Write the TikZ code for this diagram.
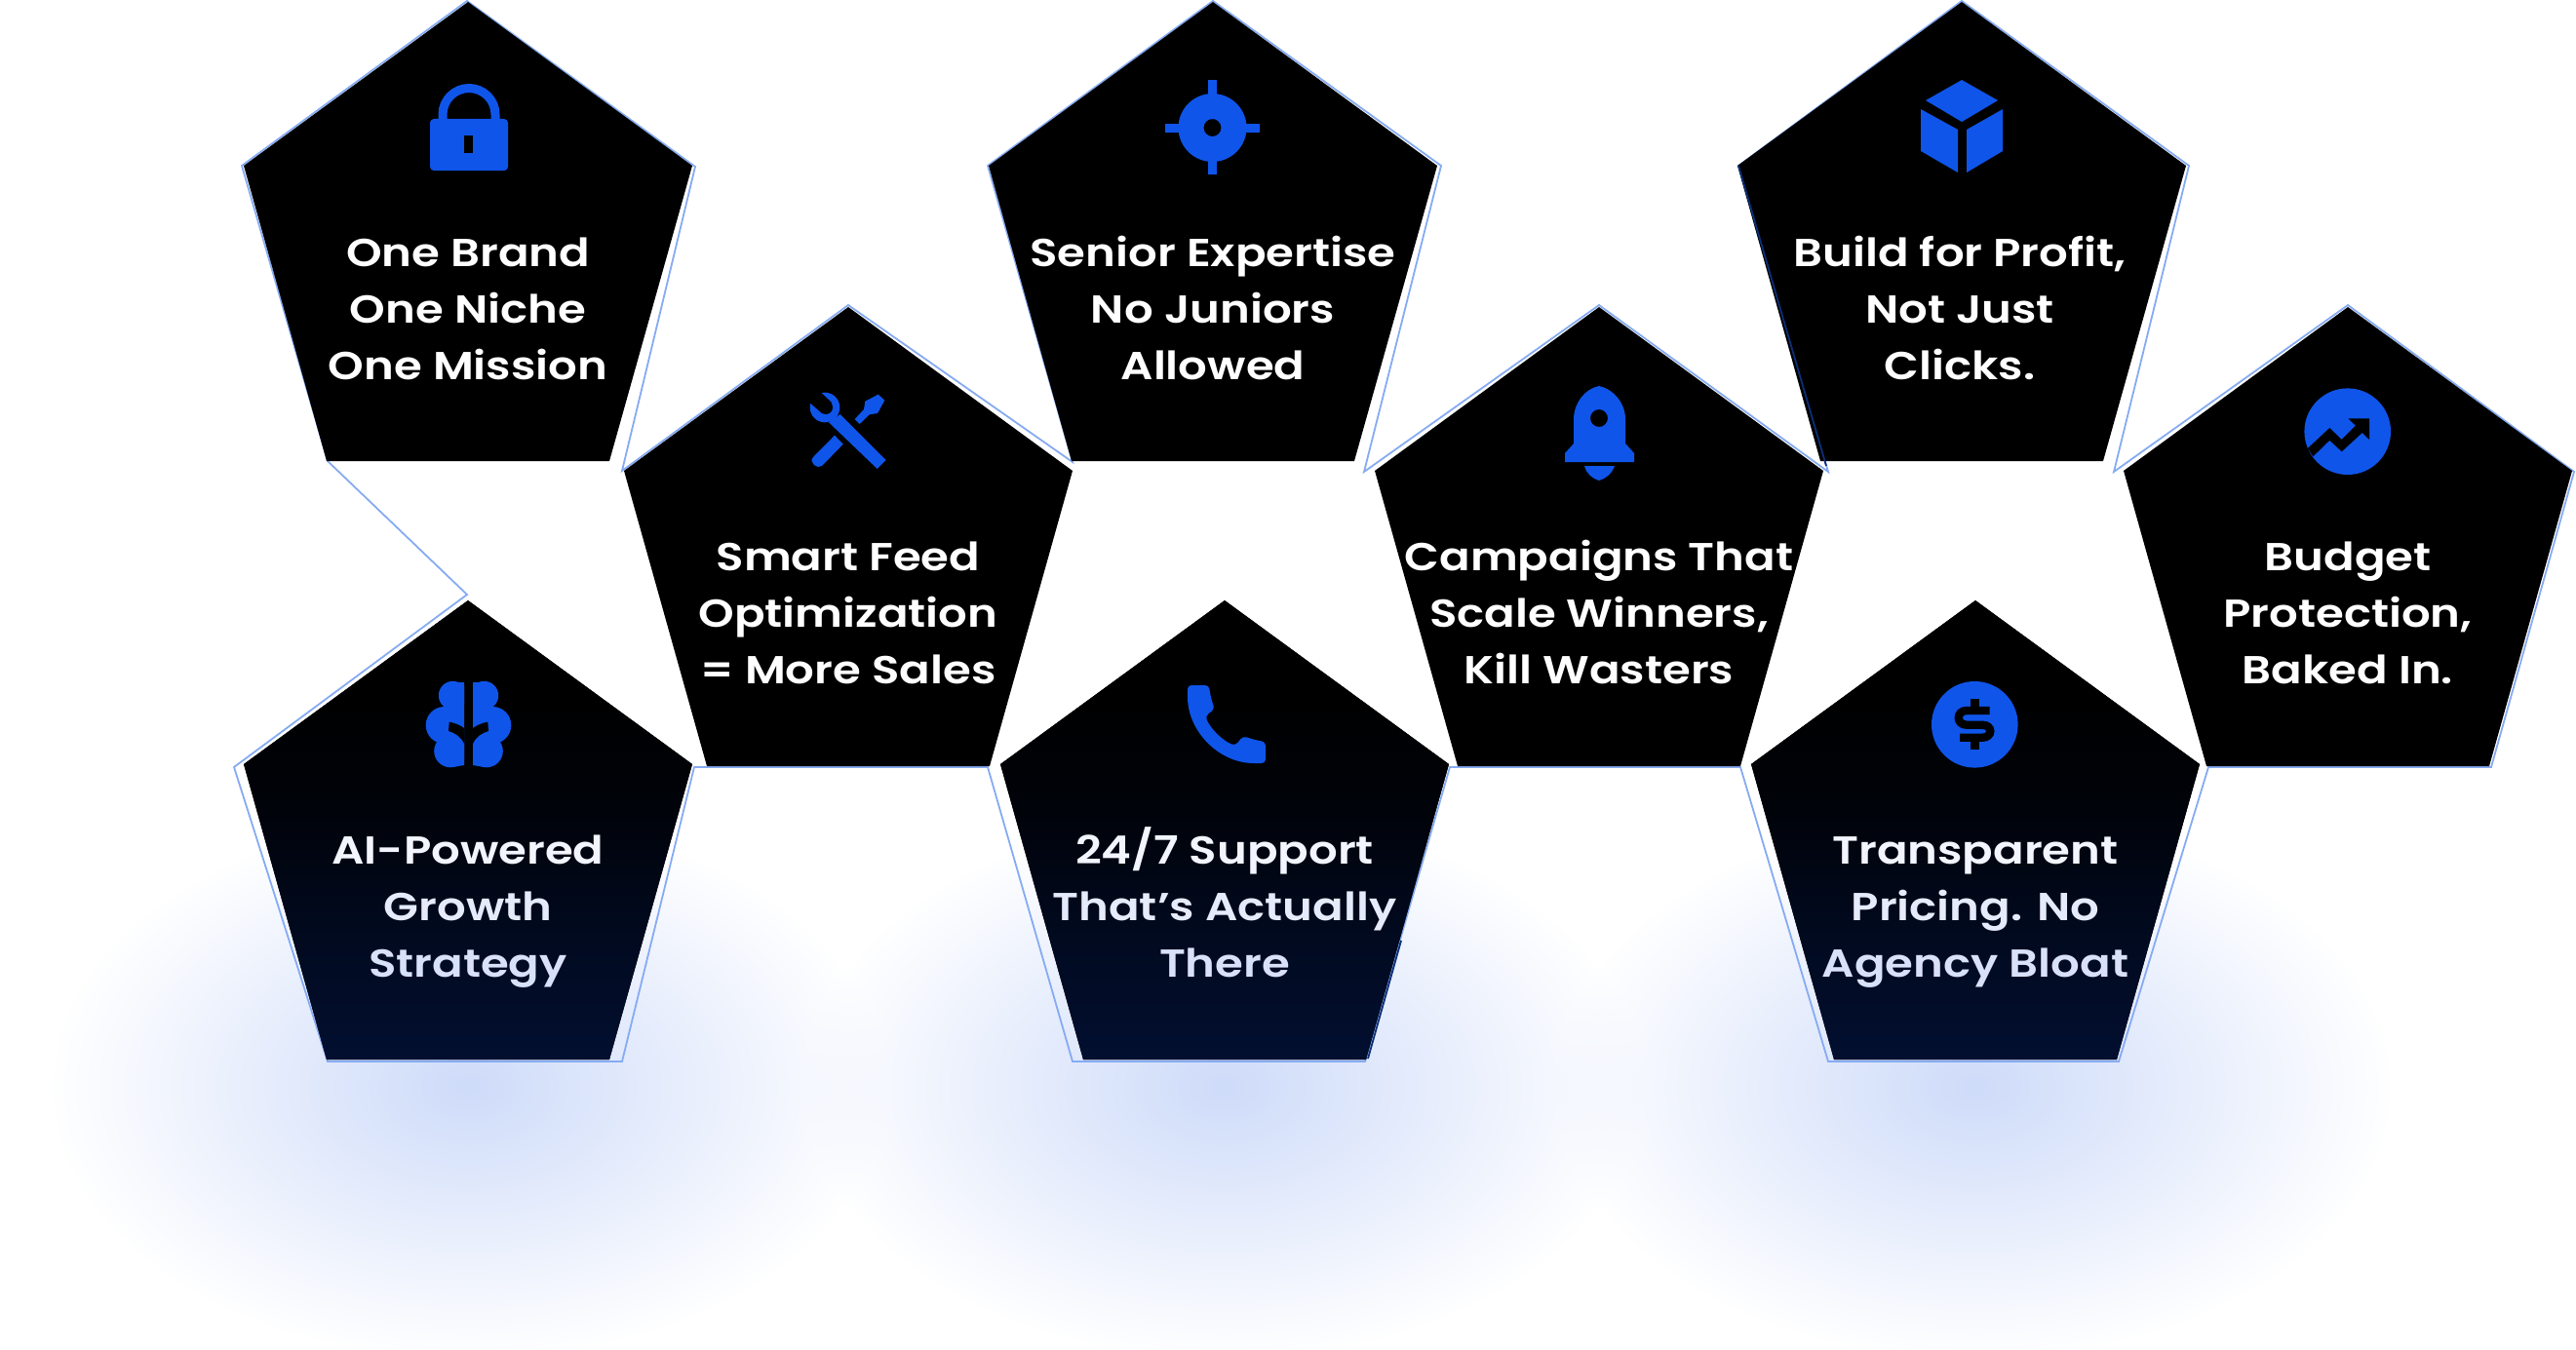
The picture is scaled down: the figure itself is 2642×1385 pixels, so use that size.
\documentclass[tikz,border=0pt]{standalone}
\usepackage{fontspec}
\setmainfont{Poppins}[BoldFont={Poppins SemiBold},FakeStretch=1.165]
\usetikzlibrary{fadings}

\definecolor{iconblue}{HTML}{0F55EA}
\definecolor{edgeblue}{HTML}{86ABF2}
\definecolor{edgedark}{HTML}{0C2F78}
\definecolor{glowblue}{HTML}{CEDBF9}
\definecolor{nightblue}{HTML}{020F30}
\definecolor{textlo}{HTML}{D8E1F8}
\definecolor{textmid}{HTML}{E6EBFB}
\definecolor{texthi}{HTML}{F2F5FE}

\pgfdeclareverticalshading{padshade}{100bp}{
  color(0bp)=(nightblue); color(25bp)=(nightblue); color(40bp)=(black!40!nightblue); color(52bp)=(black!80!nightblue); color(65bp)=(black); color(100bp)=(black)}
\tikzfading[name=glowfade, inner color=transparent!0, middle color=transparent!50, outer color=transparent!100]

\tikzset{
  pad/.style={fill=black},
  lowpad/.style={shading=padshade},
  caption/.style={text=white, font=\bfseries\fontsize{20}{29}\selectfont, align=center, anchor=base},
  edge/.style={draw=edgeblue, line width=0.9pt, line join=miter},
  icon/.style={fill=iconblue, draw=none}
}

\newcommand{\padpath}[2]{(#1,#2) -- (#1+230,#2+168) -- (#1+145,#2+471) -- (#1-145,#2+471) -- (#1-230,#2+168) -- cycle}

\begin{document}
\begin{tikzpicture}[x=0.5pt, y=-0.5pt]
  \useasboundingbox (0,0) rectangle (2642,1385);

  % glow under the bottom row
  \foreach \gx in {480,1255,2025}
    \fill[glowblue, path fading=glowfade] (\gx,1115) ellipse (430 and 280);

  % outline behind the pads
  \draw[edge] (479,1) -- (713,171) -- (638,483) -- (870,313) -- (1100,474) -- (1013,170)
    -- (1244,1) -- (1478,170) -- (1399,484) -- (1640,313) -- (1875,484) -- (1783,170)
    -- (2012,1) -- (2245,170) -- (2168,484) -- (2408,313) -- (2640,484) -- (2555,787)
    -- (2265,787) -- (2173,1089) -- (1875,1089) -- (1785,787) -- (1487,787) -- (1400,1089)
    -- (1100,1089) -- (1013,787) -- (712,787) -- (638,1089) -- (336,1089) -- (240,787)
    -- (479,610) -- (336,473) -- (248,170) -- cycle;

  % pads
  \foreach \px/\py in {480/2,1244/2,2012/2,870/315,1640/315,2408/315}
    \fill[pad] \padpath{\px}{\py};
  \foreach \px/\py in {480/616,1256/616,2026/616}
    \fill[lowpad] \padpath{\px}{\py};
  \draw[edgedark, line width=0.9pt] (1873,478) -- (1783,170);
  \draw[edgedark, line width=0.9pt] (1403,1086) -- (1437,965);

  % captions
  \node[caption] (brand) at (480,389.5) {One Brand\\One Niche\\One Mission};
  \node[caption] (senior) at (1244,389.5) {Senior Expertise\\No Juniors\\Allowed};
  \node[caption] (profit) at (2010,389.5) {Build for Profit,\\Not Just\\Clicks.};
  \node[caption] (feed) at (870,701) {Smart Feed\\Optimization\\= More Sales};
  \node[caption] (scale) at (1640,701) {Campaigns That\\Scale Winners,\\Kill Wasters};
  \node[caption] (budget) at (2408,701) {Budget\\Protection,\\Baked In.};
  \node[caption] (growth) at (480,1002) {\textcolor{texthi}{AI-Powered}\\\textcolor{textmid}{Growth}\\\textcolor{textlo}{Strategy}};
  \node[caption] (support) at (1256,1002) {\textcolor{texthi}{24/7 Support}\\\textcolor{textmid}{That’s Actually}\\\textcolor{textlo}{There}};
  \node[caption] (pricing) at (2026,1002) {\textcolor{texthi}{Transparent}\\\textcolor{textmid}{Pricing. No}\\\textcolor{textlo}{Agency Bloat}};

  % lock
  \draw[iconblue, line width=4.5pt] (454,125) -- (454,117.5) arc (180:360:27) -- (508,125);
  \fill[icon, rounded corners=2pt] (441,122) rectangle (521,175);
  \fill (476,139) rectangle (485,157);

  % target
  \fill[icon, even odd rule] (1243.5,131) circle (35) (1243.5,131) circle (9);
  \fill[icon] (1239,82) rectangle (1248,98);
  \fill[icon] (1239,164) rectangle (1248,179);
  \fill[icon] (1195,127) rectangle (1211,136);
  \fill[icon] (1275,127) rectangle (1292,136);

  % cube
  \fill[icon] (2012,82) -- (2049,103) -- (2012,125) -- (1975,103) -- cycle;
  \fill[icon] (1970,112) -- (2008,133) -- (2008,177) -- (1970,155) -- cycle;
  \fill[icon] (2017,133) -- (2054,112) -- (2054,155) -- (2017,177) -- cycle;

  % tools
  \fill[icon] (900.7,404.7) -- (907.3,410.7) -- (900,424) -- (891.7,425.3) -- (881.7,435) -- (876.7,430) -- (886,420) -- (887.3,411.7) -- cycle;
  \fill[icon] (856,446.7) -- (864.7,455.7) -- (843,478) .. controls (838,482) and (829,474) .. (834,469) -- cycle;
  \fill[icon] (846,418) circle (15.3);
  \fill[icon] (850,433.3) -- (861.7,425) -- (908.7,472) -- (899.7,481) -- cycle;
  \fill (847,418) circle (7);
  \fill (838,399) -- (827,410) -- (843,424) -- (853,413) -- cycle;

  % rocket
  \fill[icon, even odd rule] (1640,396) .. controls (1655,399) and (1667,414) .. (1667,430) -- (1667,455) -- (1676,465) -- (1676,474)
    -- (1605,474) -- (1605,465) -- (1614,455) -- (1614,430) .. controls (1614,414) and (1625,399) .. (1640,396) -- cycle
    (1640,429) circle (9);
  \fill[icon] (1625,478) -- (1656,478) .. controls (1653,486) and (1647,491) .. (1640,493) .. controls (1633,491) and (1627,486) .. (1625,478) -- cycle;

  % chart
  \fill[icon] (2407.7,442.7) circle (44.3);
  \fill (2366.7,460) -- (2389.3,439) -- (2401.7,451) -- (2416,436.7) -- (2408.3,429.3) -- (2430,429.3) -- (2430,451)
    -- (2422.7,444) -- (2401.7,463.3) -- (2389.3,451.7) -- (2372.3,468.3) -- cycle;

  % brain
  \foreach \flip in {0,1} {
    \begin{scope}[shift={(961*\flip,0)}, xscale=1-2*\flip]
      \clip (430,690) rectangle (476,795);
      \fill[icon] (464.5,713.5) circle (14.7);
      \fill[icon] (455.7,744) circle (19);
      \fill[icon] (462,770.5) circle (16.8);
      \fill[icon] (464,700) -- (476,700) -- (476,785) -- (464,787) -- cycle;
      \fill[icon] (456,712) rectangle (476,775);
      \fill (460.7,740.7) .. controls (466,741.5) and (472,744) .. (476,747) -- (476,763) .. controls (473,756) and (467,752) .. (460,750) -- cycle;
    \end{scope}
  }

  % phone
  \fill[icon, rounded corners=2pt] (1218,703) -- (1240,703) .. controls (1241,712) and (1243,720) .. (1246,727) -- (1236,735)
    .. controls (1242,748) and (1254,760) .. (1267,765) -- (1275,755) .. controls (1283,758) and (1291,760) .. (1298,761)
    -- (1298,783) -- (1290,783) .. controls (1250,783) and (1218,750) .. (1218,711) -- cycle;

  % dollar
  \fill[icon] (2025.3,743.3) circle (44.3);
  \draw[black, line width=4.2pt] (2040.7,729) -- (2017,729) .. controls (2006,729) and (2006,743.7) .. (2017,743.7) -- (2033,743.7)
    .. controls (2044,743.7) and (2044,756.7) .. (2033,756.7) -- (2010,756.7);
  \fill (2021,716.7) rectangle (2030.3,727);
  \fill (2021,758) rectangle (2030.3,769.3);
\end{tikzpicture}
\end{document}
